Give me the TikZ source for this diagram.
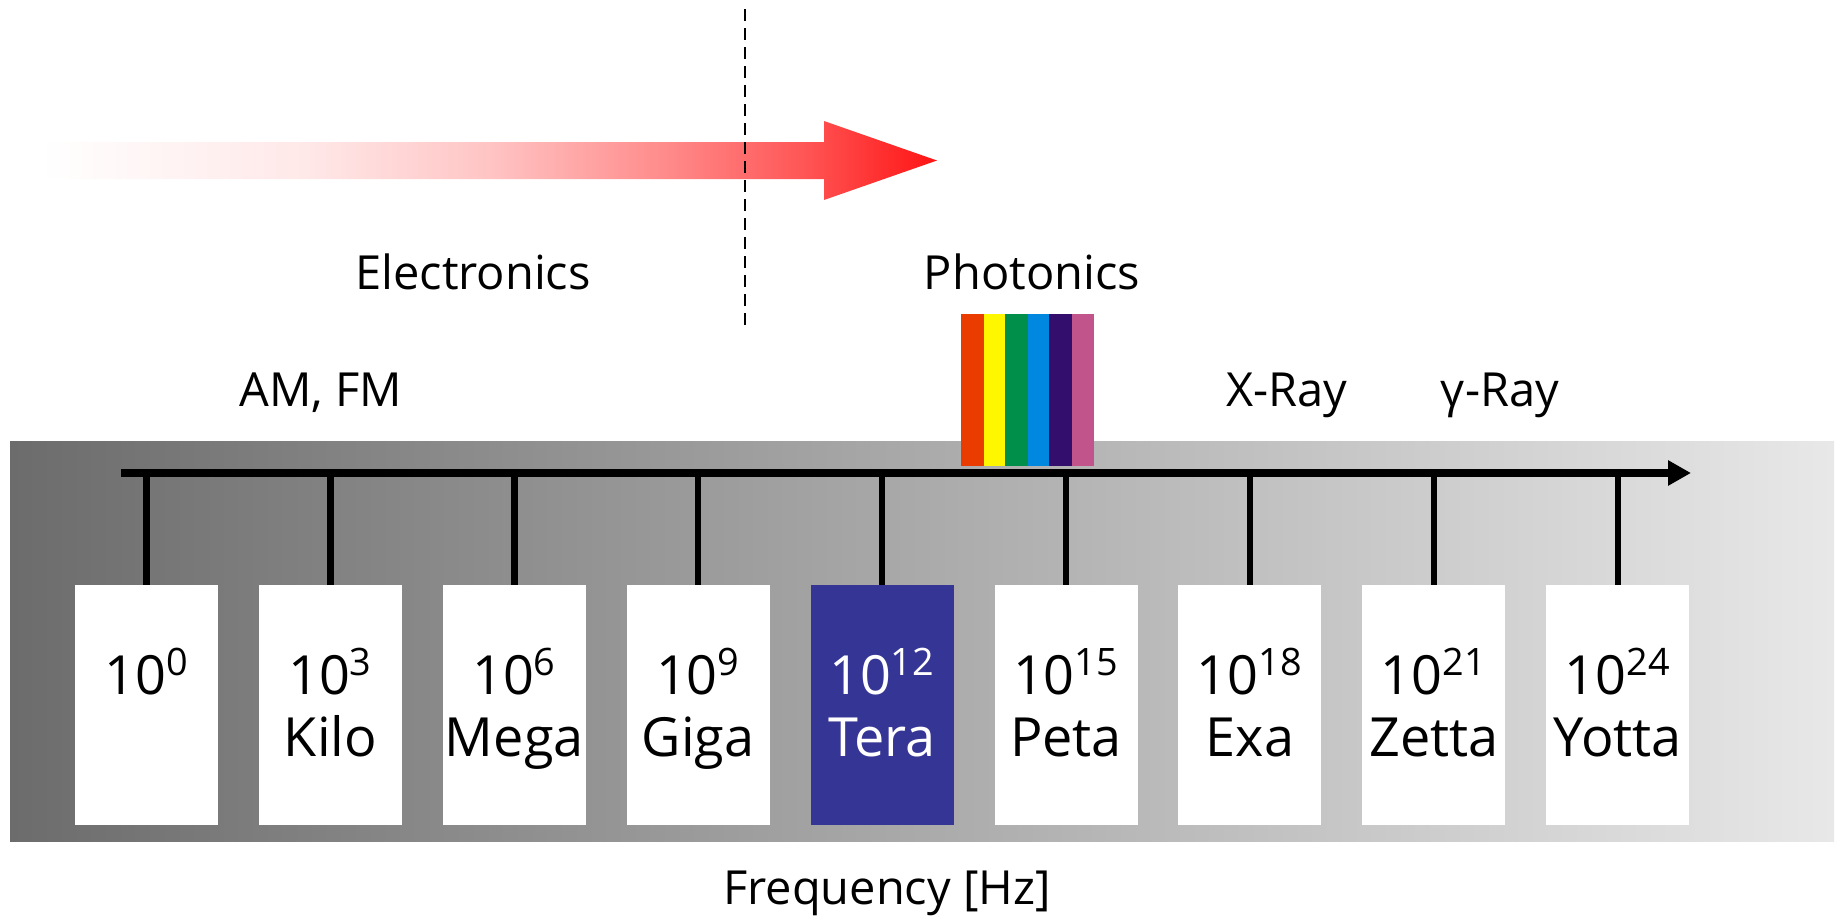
\documentclass[tikz,border=0pt]{standalone}
\usepackage{fontspec}
\setmainfont{Open Sans}
\usetikzlibrary{arrows.meta}

\definecolor{bandDark}{RGB}{108,108,108}
\definecolor{bandLight}{RGB}{232,232,232}
\definecolor{teraBlue}{RGB}{53,53,149}
\definecolor{arrowRed}{RGB}{255,20,20}
\definecolor{rbOrange}{RGB}{235,60,0}
\definecolor{rbYellow}{RGB}{255,247,0}
\definecolor{rbGreen}{RGB}{0,143,74}
\definecolor{rbBlue}{RGB}{0,136,224}
\definecolor{rbPurple}{RGB}{51,14,109}
\definecolor{rbPink}{RGB}{193,85,139}

\pgfdeclarehorizontalshading{fadered}{100bp}{color(0bp)=(white); color(25bp)=(white);
  color(40bp)=(arrowRed!10); color(50bp)=(arrowRed!25); color(60bp)=(arrowRed!50);
  color(67.5bp)=(arrowRed!72); color(75bp)=(arrowRed); color(100bp)=(arrowRed)}

\newcommand\decade[2]{\rule{0pt}{28pt}10\textsuperscript{#1}\\#2\rule[-8pt]{0pt}{8pt}}
\def\xsep{183.9}
\def\xzero{146.5}
\def\boxY{705}
\def\axisY{473}

\begin{document}
\begin{tikzpicture}[
    x=0.5pt, y=-0.5pt,
    decbox/.style={
      fill=white, inner sep=0pt, align=center,
      minimum width=71.5pt, minimum height=120pt,
      font=\fontsize{27pt}{31pt}\selectfont
    },
    terabox/.style={
      decbox, fill=teraBlue, text=white
    },
    bandtext/.style={
      anchor=base, inner sep=0pt,
      font=\fontsize{23.5pt}{28pt}\selectfont
    },
    stem/.style={
      line width=3.2pt
    },
    axisarrow/.style={
      line width=3.9pt, -{Triangle[length=11.5pt,width=12pt]}
    },
    divider/.style={
      line width=1.2pt, dash pattern=on 6pt off 3.5pt
    }
  ]
    \useasboundingbox (0,0) rectangle (1837,916);

    % grey band and fading arrow
    \shade[left color=bandDark, right color=bandLight] (10,441) rectangle (1834,841);
    \shade[shading=fadered] (41,142) -- (824,142) -- (824,121) -- (937,160.5)
      -- (824,200) -- (824,179) -- (41,179) -- cycle;

    \coordinate (DashTop) at (745,9);
    \coordinate (DashBottom) at (745,328);
    \draw[divider] (DashTop) -- (DashBottom);

    \node[bandtext] (Electronics) at (473,289) {Electronics};
    \node[bandtext] (Photonics) at (1032,289) {Photonics};
    \node[bandtext] (AmFm) at (321,406) {AM, FM};
    \node[bandtext] (XRay) at (1287,406) {X-Ray};
    \node[bandtext] (GammaRay) at (1500,406) {γ-Ray};
    \node[bandtext] (Frequency) at (887,904) {Frequency [Hz]};

    % visible light
    \fill[rbOrange] (961,314) rectangle (984,466);
    \fill[rbYellow] (984,314) rectangle (1005,466);
    \fill[rbGreen] (1005,314) rectangle (1028,466);
    \fill[rbBlue] (1028,314) rectangle (1049,466);
    \fill[rbPurple] (1049,314) rectangle (1072,466);
    \fill[rbPink] (1072,314) rectangle (1094,466);

    \coordinate (AxisStart) at (121,\axisY);
    \coordinate (AxisEnd) at (1691,\axisY);

    \node[decbox] (DecZero) at ({\xzero+0*\xsep},\boxY) {\decade{0}{}};
    \node[decbox] (DecKilo) at ({\xzero+1*\xsep},\boxY) {\decade{3}{Kilo}};
    \node[decbox] (DecMega) at ({\xzero+2*\xsep},\boxY) {\decade{6}{Mega}};
    \node[decbox] (DecGiga) at ({\xzero+3*\xsep},\boxY) {\decade{9}{Giga}};
    \node[terabox] (DecTera) at ({\xzero+4*\xsep},\boxY) {\decade{12}{Tera}};
    \node[decbox] (DecPeta) at ({\xzero+5*\xsep},\boxY) {\decade{15}{Peta}};
    \node[decbox] (DecExa) at ({\xzero+6*\xsep},\boxY) {\decade{18}{Exa}};
    \node[decbox] (DecZetta) at ({\xzero+7*\xsep},\boxY) {\decade{21}{Zetta}};
    \node[decbox] (DecYotta) at ({\xzero+8*\xsep},\boxY) {\decade{24}{Yotta}};

    \draw[stem] (DecZero.north) -- (DecZero.north |- AxisStart);
    \draw[stem] (DecKilo.north) -- (DecKilo.north |- AxisStart);
    \draw[stem] (DecMega.north) -- (DecMega.north |- AxisStart);
    \draw[stem] (DecGiga.north) -- (DecGiga.north |- AxisStart);
    \draw[stem] (DecTera.north) -- (DecTera.north |- AxisStart);
    \draw[stem] (DecPeta.north) -- (DecPeta.north |- AxisStart);
    \draw[stem] (DecExa.north) -- (DecExa.north |- AxisStart);
    \draw[stem] (DecZetta.north) -- (DecZetta.north |- AxisStart);
    \draw[stem] (DecYotta.north) -- (DecYotta.north |- AxisStart);

    \draw[axisarrow] (AxisStart) -- (AxisEnd);
  \end{tikzpicture}
\end{document}
